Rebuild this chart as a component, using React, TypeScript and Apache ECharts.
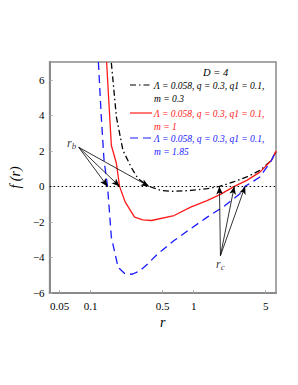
import React, { useEffect, useRef } from "react";
import * as echarts from "echarts";

// ---- data (r, f(r)) ----
const rBlack = [0.159, 0.178, 0.206, 0.248, 0.287, 0.369, 0.48, 0.64, 0.94, 1.36, 1.78, 2.43, 3.28, 4.4, 5.7, 6.3];
const fBlack = [6.95, 3.9, 2.03, 1.07, 0.45, 0, -0.23, -0.28, -0.23, -0.13, 0, 0.25, 0.53, 0.9, 1.47, 1.95];

const rRed = [0.143, 0.15, 0.159, 0.178, 0.191, 0.217, 0.267, 0.321, 0.39, 0.646, 0.936, 1.35, 1.82, 2.48, 3.28, 4.4, 5.7, 6.3];
const fRed = [7.0, 4.86, 2.3, 1.3, 0, -0.89, -1.73, -1.88, -1.92, -1.64, -1.17, -0.8, -0.45, 0, 0.34, 0.8, 1.47, 2.0];

const rBlue = [0.119, 0.127, 0.135, 0.146, 0.159, 0.185, 0.214, 0.235, 0.257, 0.3, 0.36, 0.447, 0.646, 0.936, 1.354, 1.96, 2.83, 3.16, 4.4, 5.7, 6.3];
const fBlue = [7, 3.9, 1.47, 0, -2.86, -4.56, -4.9, -4.95, -4.93, -4.75, -4.35, -3.8, -3.05, -2.38, -1.73, -1.13, -0.4, 0, 0.53, 1.47, 2.0];

const xTickValues = [0.05, 0.1, 0.5, 1, 5];
const xTickLabels = ["0.05", "0.1", "0.5", "1", "5"];
const yTickValues = [-6, -4, -2, 0, 2, 4, 6];

const legendLines = [
  "Λ = 0.058, q = 0.3, q1 = 0.1,",
  "Λ = 0.058, q = 0.3, q1 = 0.1,",
  "Λ = 0.058, q = 0.3, q1 = 0.1,",
];
const legendM = ["m = 0.3", "m = 1", "m = 1.85"];
const legendColors = ["#000000", "#ff1a1a", "#1a1aff"];
const legendTitle = "D = 4";

// annotation points
const rbStart = [0.0767, 2.2];
const rbTargets = [[0.146, 0], [0.191, 0], [0.369, 0]];
const rcStart = [1.82, -3.9];
const rcTargets = [[1.78, 0], [2.48, 0], [3.16, 0]];
const rbLabelPos = [0.0655, 2.45];
const rcLabelPos = [1.82, -4.35];

const L = Math.log10;
const toPts = (rs: number[], fs: number[]) => rs.map((r, i) => [L(r), fs[i]]);

export default function App() {
  const ref = useRef<HTMLDivElement>(null);
  useEffect(() => {
    if (!ref.current) return;
    const chart = echarts.init(ref.current, undefined, { renderer: "svg" });
    const font = "Liberation Serif";
    const arrowData = (start: number[], targets: number[][]) =>
      targets.map((t) => [
        { coord: [L(start[0]), start[1]] },
        { coord: [L(t[0]), t[1]] },
      ]);
    const legendGraphic: any[] = [];
    const ly = [85, 113, 138];
    legendGraphic.push({
      type: "text",
      left: 203,
      top: 67,
      style: { text: legendTitle, font: `italic 10.5px "${font}"`, fill: "#000" },
    });
    ly.forEach((y, i) => {
      legendGraphic.push({
        type: "line",
        shape: { x1: 130, y1: y, x2: 152, y2: y },
        style: {
          stroke: legendColors[i],
          lineWidth: 1.2,
          lineDash: i === 0 ? [6, 3, 1.5, 3] : i === 2 ? [8, 5] : null,
        },
      });
      legendGraphic.push({
        type: "text",
        left: 154,
        top: y - 6,
        style: {
          text: legendLines[i] + "\n" + legendM[i],
          font: `italic 9.5px "${font}"`,
          fill: legendColors[i],
          lineHeight: 13,
        },
      });
    });

    chart.setOption({
      animation: false,
      grid: {
        left: 47,
        top: 62,
        right: 22,
        bottom: 92,
        show: true,
        borderColor: "#8a8a8a",
        borderWidth: 1.5,
        backgroundColor: "transparent",
      },
      xAxis: {
        type: "value",
        min: L(0.04),
        max: L(6.3),
        name: "r",
        nameLocation: "middle",
        nameGap: 19,
        nameTextStyle: { fontFamily: font, fontStyle: "italic", fontSize: 14, color: "#000" },
        axisLine: { onZero: false, lineStyle: { color: "#8a8a8a", width: 2 } },
        axisTick: { show: true, inside: true, length: 3, customValues: xTickValues.map(L), lineStyle: { color: "#aaa" } },
        splitLine: { show: false },
        axisLabel: {
          customValues: xTickValues.map(L),
          formatter: (v: number) => {
            let best = 0;
            xTickValues.forEach((t, i) => {
              if (Math.abs(L(t) - v) < Math.abs(L(xTickValues[best]) - v)) best = i;
            });
            return xTickLabels[best];
          },
          fontFamily: font,
          fontSize: 11,
          color: "#000",
          margin: 7,
        },
      },
      yAxis: {
        type: "value",
        min: -6,
        max: 7,
        name: "f (r)",
        nameLocation: "middle",
        nameGap: 25,
        nameRotate: 90,
        nameTextStyle: { fontFamily: font, fontStyle: "italic", fontSize: 14, color: "#000" },
        axisLine: { show: true, onZero: false, lineStyle: { color: "#8a8a8a", width: 2 } },
        axisTick: { show: true, inside: true, length: 3, customValues: yTickValues, lineStyle: { color: "#aaa" } },
        splitLine: { show: false },
        axisLabel: {
          customValues: yTickValues,
          formatter: (v: number) => String(v).replace("-", "−"),
          fontFamily: font,
          fontSize: 11,
          color: "#000",
          margin: 5,
        },
      },
      series: [
        {
          type: "line",
          data: toPts(rBlack, fBlack),
          showSymbol: false,
          lineStyle: { color: "#000", width: 1.3, type: [6, 3, 1.5, 3] },
          markLine: {
            silent: true,
            symbol: "none",
            label: { show: false },
            lineStyle: { color: "#000", type: [1.5, 2.5], width: 1.2 },
            data: [{ yAxis: 0 }],
          },
        },
        {
          type: "line",
          data: toPts(rRed, fRed),
          showSymbol: false,
          lineStyle: { color: "#ff1a1a", width: 1.3 },
        },
        {
          type: "line",
          data: toPts(rBlue, fBlue),
          showSymbol: false,
          lineStyle: { color: "#1a1aff", width: 1.3, type: [8, 5] },
        },
        {
          type: "scatter",
          symbolSize: 0,
          data: [
            { value: [L(rbLabelPos[0]), rbLabelPos[1]], name: "b" },
            { value: [L(rcLabelPos[0]), rcLabelPos[1]], name: "c" },
          ],
          label: {
            show: true,
            position: "inside",
            formatter: (p: any) => `{i|r}{s|${p.name}}`,
            rich: {
              i: { fontFamily: font, fontStyle: "italic", fontSize: 12, color: "#000" },
              s: { fontFamily: font, fontStyle: "italic", fontSize: 9, color: "#000", verticalAlign: "bottom", padding: [6, 0, 0, 0] },
            },
          },
          markLine: {
            silent: true,
            symbol: ["none", "arrow"],
            symbolSize: [5, 8],
            label: { show: false },
            lineStyle: { color: "#000", type: "solid", width: 0.8 },
            data: [...arrowData(rbStart, rbTargets), ...arrowData(rcStart, rcTargets)],
          },
        },
      ],
      graphic: legendGraphic,
    });
    return () => chart.dispose();
  }, []);
  return (
    <div
      ref={ref}
      style={{ position: "absolute", left: 0, top: 0, width: 298, height: 385, background: "#fff" }}
    />
  );
}
